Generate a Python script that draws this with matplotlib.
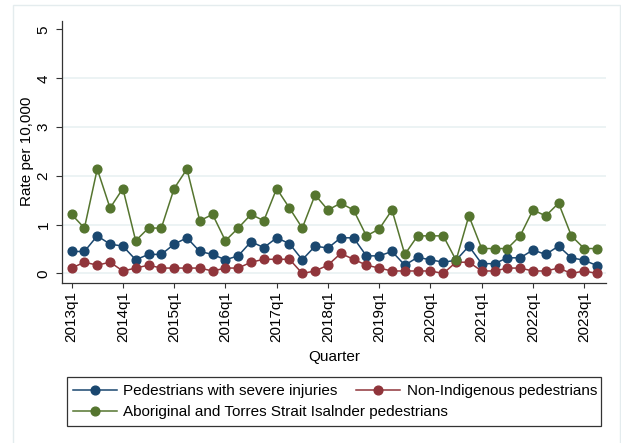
import numpy as np
import matplotlib
matplotlib.use("Agg")
import matplotlib.pyplot as plt
from matplotlib.patches import Rectangle

plt.rcParams['font.family'] = ['Liberation Sans', 'DejaVu Sans']

# quarterly rates per 10,000, 2013q1 - 2023q2
quarters = [f"{y}q{q}" for y in range(2013, 2024) for q in range(1, 5)][:42]

severe = [0.45, 0.45, 0.77, 0.60,
          0.56, 0.28, 0.39, 0.39,
          0.60, 0.73, 0.45, 0.39,
          0.28, 0.36, 0.65, 0.53,
          0.73, 0.61, 0.28, 0.56,
          0.52, 0.73, 0.73, 0.36,
          0.36, 0.45, 0.17, 0.33,
          0.28, 0.23, 0.27, 0.56,
          0.20, 0.20, 0.32, 0.32,
          0.48, 0.39, 0.56, 0.32,
          0.27, 0.16]

non_indigenous = [0.11, 0.23, 0.17, 0.23,
                  0.05, 0.11, 0.17, 0.11,
                  0.11, 0.11, 0.11, 0.05,
                  0.11, 0.11, 0.23, 0.29,
                  0.29, 0.29, 0.00, 0.05,
                  0.17, 0.41, 0.29, 0.17,
                  0.11, 0.05, 0.05, 0.05,
                  0.05, 0.00, 0.23, 0.23,
                  0.05, 0.05, 0.11, 0.11,
                  0.05, 0.05, 0.11, 0.00,
                  0.05, 0.00]

aboriginal = [1.21, 0.93, 2.14, 1.34,
              1.74, 0.67, 0.93, 0.93,
              1.74, 2.14, 1.08, 1.21,
              0.67, 0.93, 1.21, 1.08,
              1.74, 1.34, 0.93, 1.61,
              1.30, 1.44, 1.30, 0.77,
              0.91, 1.30, 0.39, 0.77,
              0.77, 0.77, 0.27, 1.18,
              0.51, 0.51, 0.51, 0.77,
              1.30, 1.18, 1.44, 0.77,
              0.51, 0.51]

labels = ["Pedestrians with severe injuries",
          "Non-Indigenous pedestrians",
          "Aboriginal and Torres Strait Isalnder pedestrians"]
colors = ["#1a476f", "#90353b", "#55752f"]

W, H = 621, 443
fig = plt.figure(figsize=(W / 100, H / 100), dpi=100)

# faint outer frame (graph region)
fig.add_artist(Rectangle((13 / W, -0.02), (620 - 13) / W, 1.02 - 5 / H,
                         transform=fig.transFigure, fill=False,
                         edgecolor="#e4ecee", linewidth=1.0))

ax = fig.add_axes([62 / W, 1 - 282.7 / H, (606 - 62) / W, (282.7 - 20.7) / H])

x = np.arange(len(quarters))
for v in range(5):
    ax.axhline(v, color="#eaf2f3", linewidth=1.3, zorder=0)

lines = []
for series, c, lab in zip([severe, non_indigenous, aboriginal], colors, labels):
    ln, = ax.plot(x, series, color=c, marker="o", markersize=6.3,
                  linewidth=1.1, label=lab, zorder=3)
    lines.append(ln)

ax.set_xlim(-0.75, 41.7)
ax.set_ylim(-0.19, 5.18)

ax.set_yticks(range(6))
ax.set_yticklabels([str(v) for v in range(6)], rotation=90, va="center")
ax.set_xticks(x[::4])
ax.set_xticklabels(quarters[::4], rotation=90)

ax.tick_params(axis="y", length=4.3, width=0.8, color="#333333", pad=4, labelsize=11)
ax.tick_params(axis="x", length=3.8, width=0.8, color="#333333", pad=2.5, labelsize=11)

for s in ["top", "right"]:
    ax.spines[s].set_visible(False)
ax.spines["left"].set_color("#333333")
ax.spines["bottom"].set_color("#333333")
ax.spines["left"].set_linewidth(0.9)
ax.spines["bottom"].set_linewidth(0.9)

ax.set_ylabel("Rate per 10,000", fontsize=11, va="center")
ax.yaxis.set_label_coords((27 - 62) / 544, 0.5)
ax.set_xlabel("Quarter", fontsize=11, va="center")
ax.xaxis.set_label_coords(0.5, (282.7 - 357) / 262)

# legend box drawn as a frame, entries laid out like the original (2 + 1)
fig.add_artist(Rectangle((67 / W, 1 - 426 / H), (601 - 67) / W, (426 - 377) / H,
                         transform=fig.transFigure, fill=False,
                         edgecolor="#333333", linewidth=0.9))
leg_kw = dict(frameon=False, fontsize=11, handlelength=2.9, handletextpad=0.4,
              borderpad=0, borderaxespad=0, numpoints=1, loc="center left")
leg1 = fig.legend([lines[0], lines[1]], [labels[0], labels[1]], ncol=2,
                  columnspacing=1.2, bbox_to_anchor=(73 / W, 1 - 391 / H), **leg_kw)
leg2 = fig.legend([lines[2]], [labels[2]],
                  bbox_to_anchor=(73 / W, 1 - 412 / H), **leg_kw)

fig.savefig("out.png", dpi=100)
